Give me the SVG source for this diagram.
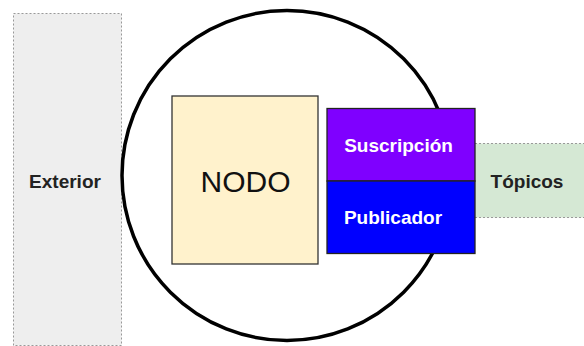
<svg xmlns="http://www.w3.org/2000/svg" width="584" height="346" viewBox="0 0 584 346">
<style>
.lbl{font-family:"Liberation Sans",Arial,sans-serif;font-weight:bold;font-size:19px;text-anchor:middle;dominant-baseline:central}
.dot{stroke:#999;stroke-width:1;stroke-dasharray:2 2}
</style>
<rect width="584" height="346" fill="#fff"/>
<g id="exterior">
<rect x="13.5" y="13.5" width="108" height="332" fill="#eeeeee" class="dot"/>
<text x="65" y="181" class="lbl" fill="#222">Exterior</text>
</g>
<g id="circulo">
<circle cx="287" cy="175.5" r="165" fill="none" stroke="#000" stroke-width="3.5"/>
</g>
<g id="topicos">
<rect x="475" y="143.5" width="115" height="74" fill="#d5e8d4"/>
<line x1="475" y1="143.5" x2="584" y2="143.5" class="dot"/>
<line x1="475" y1="217.5" x2="584" y2="217.5" class="dot"/>
<text x="527" y="181.5" class="lbl" fill="#222">Tópicos</text>
</g>
<g id="nodo">
<rect x="172" y="96" width="146" height="168" fill="#fff2cc" stroke="#333" stroke-width="1.3"/>
<text x="245.5" y="181" font-family="'Liberation Sans',Arial,sans-serif" font-size="30" text-anchor="middle" dominant-baseline="central" fill="#111">NODO</text>
</g>
<g id="suscripcion">
<rect x="327" y="108.5" width="148" height="72.5" fill="#7f00ff" stroke="#222" stroke-width="1.3"/>
<text x="398.5" y="145" class="lbl" fill="#fff">Suscripción</text>
</g>
<g id="publicador">
<rect x="327" y="181" width="148" height="72.5" fill="#0000ff" stroke="#222" stroke-width="1.3"/>
<text x="393" y="217" class="lbl" fill="#fff">Publicador</text>
</g>
<g id="connectors"></g>
</svg>
